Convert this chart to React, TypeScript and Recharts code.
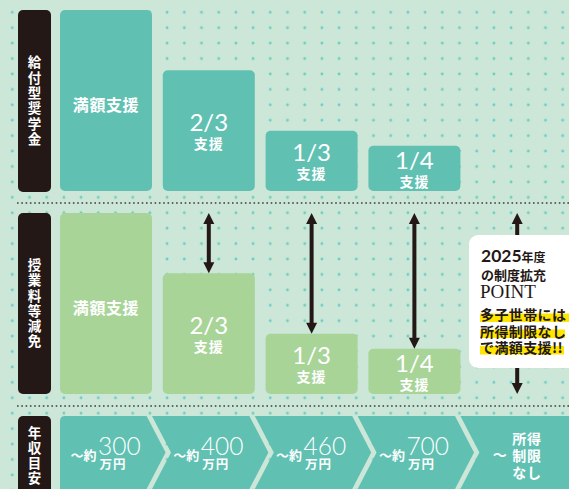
import React from 'react';
import { BarChart, Bar, XAxis, YAxis } from 'recharts';

const categories = ['～約300万円', '～約400万円', '～約460万円', '～約700万円', '所得制限なし'];
const incomeAmounts = ['300', '400', '460', '700', ''];
const scholarshipShare = [1, 0.6667, 0.3333, 0.25, 0];
const tuitionShare = [1, 0.6667, 0.3333, 0.25, 0];
const supportLabels = ['満額支援', '2/3', '1/3', '1/4', ''];
const rowLabels = ['給付型奨学金', '授業料等減免', '年収目安'];
const noLimitLines = ['所得', '制限', 'なし'];
const pointTitle = ['2025', '年度', 'の制度拡充', 'POINT'];
const pointLines = ['多子世帯には', '所得制限なし', 'で満額支援!!'];

const JP = "'Noto Sans CJK JP', 'Noto Sans CJK SC', sans-serif";
const NUM = "Lato, 'Open Sans', sans-serif";
const W = 569;
const H = 489;
const TEAL = '#60c1b2';
const GREEN = '#a8d498';
const INK = '#231815';
const BG = '#cce6d8';
const DOT = '#67cec0';

const scholarshipData = categories.map((cat, i) => ({ cat, value: scholarshipShare[i], label: supportLabels[i] }));
const tuitionData = categories.map((cat, i) => ({
  cat,
  value: tuitionShare[i],
  gap: 1 - tuitionShare[i],
  label: supportLabels[i],
}));
const incomeData = categories.map((cat, i) => ({ cat, band: 1, amount: incomeAmounts[i], index: i }));

const makeSupportBar = (fill: string) => (props: any) => {
  const { x, y, width, height, payload } = props;
  if (!height || height <= 0) return <g />;
  const cx = x + width / 2;
  const cy = y + height / 2;
  const label: string = payload?.label ?? '';
  return (
    <g>
      <rect x={x} y={y} width={width} height={height} rx={5} ry={5} fill={fill} />
      {label.includes('/') ? (
        <text fill="#fff" textAnchor="middle">
          <tspan x={cx} y={cy + 0.5} fontSize={24} fontFamily={NUM} fontWeight={400}>
            {label}
          </tspan>
          <tspan x={cx} y={cy + 18.3} fontSize={14} fontFamily={JP} fontWeight={700} letterSpacing={1}>
            支援
          </tspan>
        </text>
      ) : (
        <text x={cx} y={cy + 3} textAnchor="middle" dominantBaseline="central" fontSize={16} fontFamily={JP} fontWeight={700} fill="#fff" letterSpacing={0.6}>
          {label}
        </text>
      )}
    </g>
  );
};

const GapArrow = (props: any) => {
  const { x, y, width, height } = props;
  if (!height || height <= 2) return <g />;
  const cx = x + width / 2;
  const top = y;
  const bot = y + height;
  const hl = 11;
  const hw = 5.5;
  return (
    <g fill={INK}>
      <rect x={cx - 2} y={top + hl - 1} width={4} height={height - 2 * hl + 2} />
      <path d={`M${cx},${top} L${cx + hw},${top + hl} L${cx - hw},${top + hl} Z`} />
      <path d={`M${cx},${bot} L${cx + hw},${bot - hl} L${cx - hw},${bot - hl} Z`} />
    </g>
  );
};

const Chevron = (props: any) => {
  const { x, y, width, height, payload, index } = props;
  const n = categories.length;
  const i = payload?.index ?? index ?? 0;
  const last = i === n - 1;
  const xr = last ? x + width + 30 : x + width - 11.4;
  const tip = xr + 19;
  const mid = y + height / 2;
  const bot = y + height;
  let d = '';
  if (i === 0) {
    const xl = x + 5;
    d = `M${xl},${y + 5} Q${xl},${y} ${xl + 5},${y} L${xr},${y} L${tip},${mid} L${xr},${bot} L${xl},${bot} Z`;
  } else {
    const xl = x - 5.8;
    d = `M${xl},${y} L${xr},${y} L${tip},${mid} L${xr},${bot} L${xl},${bot} L${xl + 19},${mid} Z`;
  }
  const c = x + width / 2;
  const amount: string = payload?.amount ?? '';
  return (
    <g>
      <path d={d} fill={TEAL} />
      {amount ? (
        <text fill="#fff">
          <tspan x={c - 10} y={459.5} textAnchor="end" fontSize={13} fontFamily={JP} fontWeight={700}>
            ～約
          </tspan>
          <tspan x={c - 8.5} y={455} textAnchor="start" fontSize={24.5} fontFamily={NUM} fontWeight={300}>
            {amount}
          </tspan>
          <tspan x={c - 7} y={469} textAnchor="start" fontSize={12.5} fontFamily={JP} fontWeight={700} letterSpacing={1}>
            万円
          </tspan>
        </text>
      ) : (
        <text fill="#fff" fontFamily={JP} fontWeight={700} fontSize={14}>
          <tspan x={c - 18} y={460.3} textAnchor="middle">
            ～
          </tspan>
          {noLimitLines.map((t, k) => (
            <tspan key={t} x={c - 5.5} y={444.3 + k * 17} textAnchor="start" letterSpacing={0.8}>
              {t}
            </tspan>
          ))}
        </text>
      )}
    </g>
  );
};

const chartStyle: React.CSSProperties = { position: 'absolute', left: 0, top: 0 };

const VerticalLabel = ({ text, x, y, spacing }: { text: string; x: number; y: number; spacing: number }) => (
  <text
    x={x}
    y={y}
    textAnchor="middle"
    writingMode="vertical-rl"
    style={{ writingMode: 'vertical-rl' } as React.CSSProperties}
    fontSize={13.5}
    fontFamily={JP}
    fontWeight={700}
    fill="#fff"
    letterSpacing={spacing}
  >
    {text}
  </text>
);

export default function App() {
  return (
    <div style={{ position: 'absolute', left: 0, top: 0, width: W, height: H, overflow: 'hidden', background: BG }}>
      <svg width={W} height={H} style={chartStyle}>
        <defs>
          <pattern id="dots" patternUnits="userSpaceOnUse" x={3.7} y={4.6} width={17.2} height={15.42}>
            <circle cx={8.6} cy={7.71} r={1.4} fill={DOT} />
          </pattern>
        </defs>
        <rect x={0} y={0} width={W} height={H} fill={BG} />
        <rect x={0} y={0} width={W} height={H} fill="url(#dots)" />
        <line x1={17} x2={W} y1={203} y2={203} stroke="#3d3d3d" strokeWidth={1.6} strokeDasharray="1.6 2.7" />
        <line x1={17} x2={W} y1={406} y2={406} stroke="#3d3d3d" strokeWidth={1.6} strokeDasharray="1.6 2.7" />
        <rect x={18} y={10} width={33} height={182} rx={5} fill={INK} />
        <rect x={18} y={213} width={33} height={181} rx={5} fill={INK} />
        <rect x={18} y={416} width={33} height={90} rx={5} fill={INK} />
        <VerticalLabel text={rowLabels[0]} x={34.5} y={101.5} spacing={1.9} />
        <VerticalLabel text={rowLabels[1]} x={34.5} y={304} spacing={1.8} />
        <VerticalLabel text={rowLabels[2]} x={34.5} y={456} spacing={1.5} />
      </svg>

      <BarChart width={W} height={H} data={scholarshipData} margin={{ top: 10, right: 0, left: 55, bottom: 298 }} style={chartStyle}>
        <XAxis dataKey="cat" hide />
        <YAxis hide domain={[0, 1]} />
        <Bar dataKey="value" barSize={92} isAnimationActive={false} shape={makeSupportBar(TEAL)} />
      </BarChart>

      <BarChart width={W} height={H} data={tuitionData} margin={{ top: 213, right: 0, left: 55, bottom: 95 }} style={chartStyle}>
        <XAxis dataKey="cat" hide />
        <YAxis hide domain={[0, 1]} />
        <Bar dataKey="value" stackId="s" barSize={92} isAnimationActive={false} shape={makeSupportBar(GREEN)} />
        <Bar dataKey="gap" stackId="s" barSize={92} isAnimationActive={false} shape={GapArrow} />
      </BarChart>

      <BarChart width={W} height={H} data={incomeData} margin={{ top: 416, right: 0, left: 55, bottom: 0 }} barCategoryGap={0} style={chartStyle}>
        <XAxis dataKey="cat" hide />
        <YAxis hide domain={[0, 1]} />
        <Bar dataKey="band" isAnimationActive={false} shape={Chevron} />
      </BarChart>

      <svg width={W} height={H} style={{ ...chartStyle, pointerEvents: 'none' }}>
        <rect x={469} y={235} width={120} height={133} rx={9} fill="#fff" />
        <text x={481} y={262} fill={INK}>
          <tspan fontFamily={NUM} fontWeight={700} fontSize={17.5}>{pointTitle[0]}</tspan>
          <tspan fontFamily={JP} fontWeight={700} fontSize={12}>{pointTitle[1]}</tspan>
        </text>
        <text x={481} y={279.5} fill={INK} fontFamily={JP} fontWeight={700} fontSize={13}>
          {pointTitle[2]}
        </text>
        <text x={480} y={297.7} fill={INK} fontFamily="'Liberation Serif', serif" fontSize={19}>
          {pointTitle[3]}
        </text>
        <rect x={480} y={313.5} width={95} height={8.5} fill="#ffe600" />
        <rect x={480} y={329.5} width={85} height={8.5} fill="#ffe600" />
        <rect x={480} y={346} width={84} height={8.5} fill="#ffe600" />
        <text fill={INK} fontFamily={JP} fontWeight={700} fontSize={14} letterSpacing={0.4}>
          {pointLines.map((t, k) => (
            <tspan key={t} x={480} y={319.8 + k * 16.8}>
              {t}
            </tspan>
          ))}
        </text>
      </svg>
    </div>
  );
}
